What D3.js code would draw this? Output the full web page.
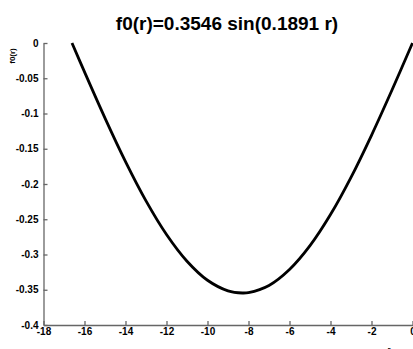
<!DOCTYPE html>
<html>
<head>
<meta charset="utf-8">
<script src="https://cdn.jsdelivr.net/npm/d3@7"></script>
<style>
  html, body { margin: 0; padding: 0; background: #fff; }
  svg { display: block; font-family: "Liberation Sans", Arial, Helvetica, sans-serif; }
</style>
</head>
<body>
<svg id="chart" width="413" height="349"></svg>
<script>
// Sampled profile of f0 over r
const rValues = [-16.61, -16, -15, -14, -13, -12, -11, -10, -9, -8.3, -8, -7, -6, -5, -4, -3, -2, -1, 0];
const f0Values = [0.000, -0.0410, -0.1065, -0.1682, -0.2239, -0.2716, -0.3095, -0.3365, -0.3515, -0.3546, -0.3540, -0.3439, -0.3213, -0.2875, -0.2434, -0.1906, -0.1309, -0.0667, 0.000];

// Axis ticks
const xTicks = [-18, -16, -14, -12, -10, -8, -6, -4, -2, 0];
const xTickLabels = ["-18", "-16", "-14", "-12", "-10", "-8", "-6", "-4", "-2", "0"];
const yTicks = [0, -0.05, -0.1, -0.15, -0.2, -0.25, -0.3, -0.35, -0.4];
const yTickLabels = ["0", "-0.05", "-0.1", "-0.15", "-0.2", "-0.25", "-0.3", "-0.35", "-0.4"];

const titleText = "f0(r)=0.3546 sin(0.1891 r)";
const xLabelText = "r";
const yLabelText = "f0(r)";

const svg = d3.select("#chart");
const plotLeft = 43.5, plotRight = 412.5, plotTop = 43, plotBottom = 325;

const x = d3.scaleLinear().domain([-18, 0]).range([plotLeft, plotRight]);
const y = d3.scaleLinear().domain([-0.4, 0]).range([plotBottom, plotTop]);

// Axes with inward ticks
const xAxis = d3.axisBottom(x)
  .tickValues(xTicks)
  .tickFormat((d, i) => xTickLabels[i])
  .tickSizeInner(-4).tickSizeOuter(0).tickPadding(3);
const yAxis = d3.axisLeft(y)
  .tickValues(yTicks)
  .tickFormat((d, i) => yTickLabels[i])
  .tickSizeInner(-4).tickSizeOuter(0).tickPadding(5);

const gx = svg.append("g").attr("transform", `translate(0,${plotBottom})`).call(xAxis);
const gy = svg.append("g").attr("transform", `translate(${plotLeft},0)`).call(yAxis);

[gx, gy].forEach(g => {
  g.select(".domain").attr("stroke", "#666").attr("stroke-width", 1.3);
  g.selectAll(".tick line").attr("stroke", "#666").attr("stroke-width", 1.3);
  g.selectAll(".tick text")
    .attr("fill", "#000")
    .attr("font-size", 10)
    .attr("font-weight", "bold")
    .attr("font-family", "Liberation Sans, Arial, sans-serif");
});
gy.selectAll(".tick text").attr("dy", "0.32em");
gx.selectAll(".tick text").attr("dy", "0.71em");

// Curve
const pts = rValues.map((r, i) => [r, f0Values[i]]);
const line = d3.line()
  .x(d => x(d[0]))
  .y(d => y(d[1]))
  .curve(d3.curveCatmullRom.alpha(0.5));

svg.append("path")
  .datum(pts)
  .attr("d", line)
  .attr("fill", "none")
  .attr("stroke", "#000")
  .attr("stroke-width", 2.8)
  .attr("stroke-linejoin", "round");

// Title
svg.append("text")
  .attr("x", 227)
  .attr("y", 30)
  .attr("text-anchor", "middle")
  .attr("font-size", 19)
  .attr("font-weight", "bold")
  .attr("fill", "#000")
  .text(titleText);

// Axis labels
svg.append("text")
  .attr("x", 389)
  .attr("y", 352)
  .attr("text-anchor", "middle")
  .attr("font-size", 8)
  .attr("font-weight", "bold")
  .text(xLabelText);

svg.append("text")
  .attr("transform", "translate(15,56) rotate(-90)")
  .attr("text-anchor", "middle")
  .attr("font-size", 8)
  .attr("font-weight", "bold")
  .text(yLabelText);
</script>
</body>
</html>
